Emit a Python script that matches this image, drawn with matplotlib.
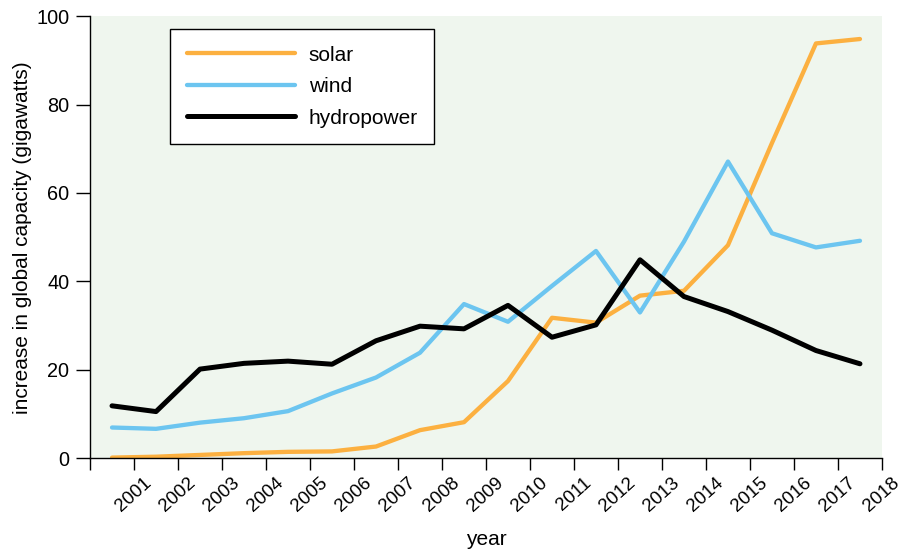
#! /usr/bin/env python3
# -*- utf-8 -*-

'''
Annual increase in global capacity of solar, wind and hydropower
'''

import matplotlib.pyplot as plt
import numpy as np


# data, one value per year (drawn at mid-year)
years = list(range(2000, 2018))
solar = [0.2, 0.4, 0.8, 1.2, 1.5, 1.6, 2.7, 6.4, 8.2, 17.5,
         31.8, 30.7, 36.8, 37.9, 48.2, 71.3, 93.8, 94.8]
wind = [7.0, 6.7, 8.1, 9.1, 10.7, 14.7, 18.3, 23.9, 34.9, 30.9,
        39.0, 46.9, 33.0, 49.0, 67.1, 50.9, 47.7, 49.2]
hydro = [11.9, 10.6, 20.2, 21.5, 22.0, 21.3, 26.6, 29.9, 29.3, 34.6,
         27.4, 30.2, 44.9, 36.6, 33.2, 29.0, 24.4, 21.4]
tick_years = list(range(2000, 2019))
tick_labels = [''] + [str(y) for y in range(2001, 2019)]


def main():
    plt.rcParams['font.family'] = ['Liberation Sans', 'DejaVu Sans']

    fig = plt.figure(figsize=(9.03, 5.5), dpi=100, facecolor='white')
    ax = fig.add_axes([0.0997, 0.1664, 0.8770, 0.8045])
    ax.set_facecolor('#eff6ee')

    x = np.array(years) + 0.5
    ax.plot(x, solar, color='#fcb040', lw=3.1, solid_capstyle='round',
            label='solar')
    ax.plot(x, wind, color='#6cc5f0', lw=3.1, solid_capstyle='round',
            label='wind')
    ax.plot(x, hydro, color='black', lw=3.6, solid_capstyle='round',
            label='hydropower')

    ax.set_xlim(2000, 2018)
    ax.set_ylim(0, 100)
    ax.set_xticks(tick_years)
    ax.set_xticklabels(tick_labels, rotation=42, ha='center', fontsize=13.5)
    ax.set_yticks([0, 20, 40, 60, 80, 100])
    ax.tick_params(axis='y', length=10, width=1.0, labelsize=14.3, pad=5)
    ax.tick_params(axis='x', length=8.5, width=1.0, pad=3)

    for side in ('top', 'right'):
        ax.spines[side].set_visible(False)
    for side in ('left', 'bottom'):
        ax.spines[side].set_linewidth(1.0)

    ax.set_xlabel('year', fontsize=15, labelpad=11)
    ax.set_ylabel('increase in global capacity (gigawatts)', fontsize=15,
                  labelpad=3)

    leg = ax.legend(loc='upper left', bbox_to_anchor=(0.101, 0.9706),
                    borderaxespad=0, fontsize=15, frameon=True, fancybox=False,
                    edgecolor='black', facecolor='white', framealpha=1,
                    handlelength=5.2, handletextpad=0.65, labelspacing=0.6,
                    borderpad=0.8)
    leg.get_frame().set_linewidth(1.0)

    fig.savefig('out.png', dpi=100)


if __name__ == '__main__':
    main()
